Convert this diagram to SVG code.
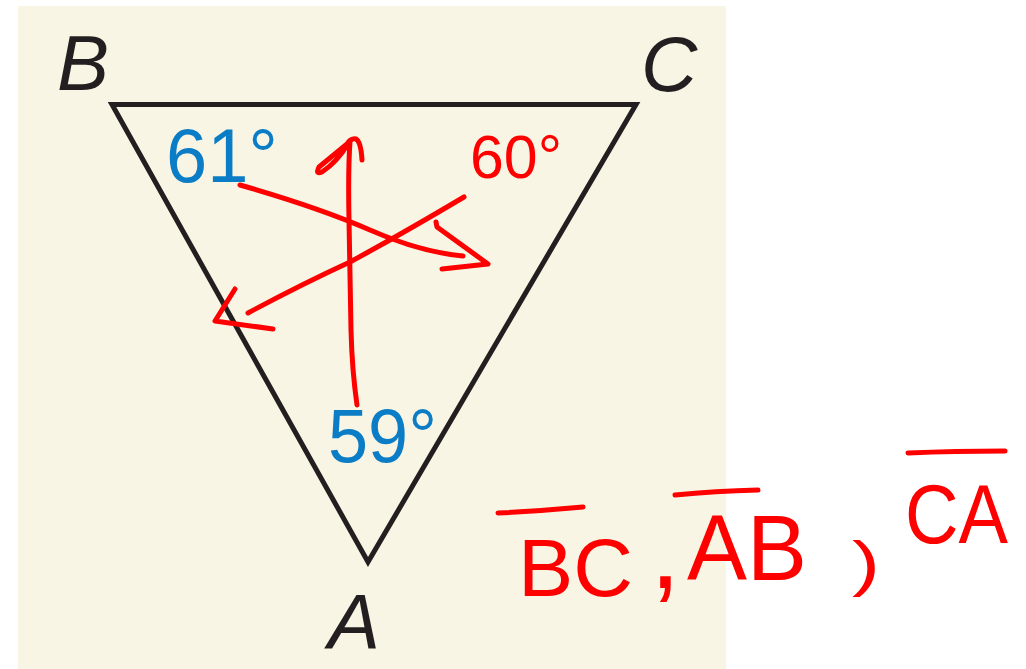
<svg xmlns="http://www.w3.org/2000/svg" width="1026" height="669" viewBox="0 0 1026 669">
<style>
.vlabel{font-family:"Liberation Sans","Open Sans",sans-serif;font-style:italic;font-size:78px;fill:#231f20}
.ang{font-family:"Liberation Sans","Open Sans",sans-serif;font-size:76px;fill:#0a7dc6}
.hand{font-family:"Liberation Sans","DejaVu Sans",sans-serif;fill:#ff0000}
.ink{fill:none;stroke:#ff0000;stroke-width:5;stroke-linecap:round;stroke-linejoin:round}
</style>
<rect x="0" y="0" width="1026" height="669" fill="#ffffff"/>
<rect x="18" y="6" width="708" height="663" fill="#f8f5e4"/>
<g id="triangle">
<polygon points="112,104.5 636,104.5 368,562" fill="none" stroke="#231f20" stroke-width="5" stroke-linejoin="miter"/>
</g>
<g id="vertex-B"><text class="vlabel" x="57" y="90">B</text></g>
<g id="vertex-C"><text class="vlabel" x="641" y="91">C</text></g>
<g id="vertex-A"><text class="vlabel" x="328" y="649">A</text></g>
<g id="angle-B"><text class="ang" x="166" y="182" textLength="112" lengthAdjust="spacingAndGlyphs">61°</text></g>
<g id="angle-A"><text class="ang" x="328" y="462" textLength="109" lengthAdjust="spacingAndGlyphs">59°</text></g>
<g id="angle-C"><text class="hand" x="470" y="178" font-size="62" textLength="92" lengthAdjust="spacingAndGlyphs">60°</text></g>
<g id="connectors">
<path class="ink" d="M240,185 Q320,208 370,230 Q420,252 463,256"/>
<path class="ink" d="M436,222 L437,227 L488,264 L442,269"/>
<path class="ink" d="M464,197 Q400,235 350,262 Q300,285 248,313"/>
<path class="ink" d="M235,289 L215,321 L273,329"/>
<path class="ink" d="M357,405 Q352,370 351,330 L349,220 Q348,170 350,141"/>
<path class="ink" d="M362,160 Q361,142 356,139 Q351,138 347,144 Q330,158 319,167 Q315,175 322,172 Q337,162 348,144"/>
</g>
<g id="answer">
<path class="ink" d="M498,513 Q540,511 583,507"/>
<text class="hand" x="518" y="596" font-size="82" textLength="115" lengthAdjust="spacingAndGlyphs">BC</text>
<text class="hand" x="650" y="588" font-size="110">,</text>
<path class="ink" d="M675,495 Q715,491 758,490"/>
<text class="hand" x="687" y="580" font-size="92" textLength="120" lengthAdjust="spacingAndGlyphs">AB</text>
<text class="hand" x="852" y="584" font-size="62" textLength="28" lengthAdjust="spacingAndGlyphs">)</text>
<path class="ink" d="M908,453 Q955,451 1005,451"/>
<text class="hand" x="905" y="543" font-size="84" textLength="103" lengthAdjust="spacingAndGlyphs">CA</text>
</g>
</svg>
